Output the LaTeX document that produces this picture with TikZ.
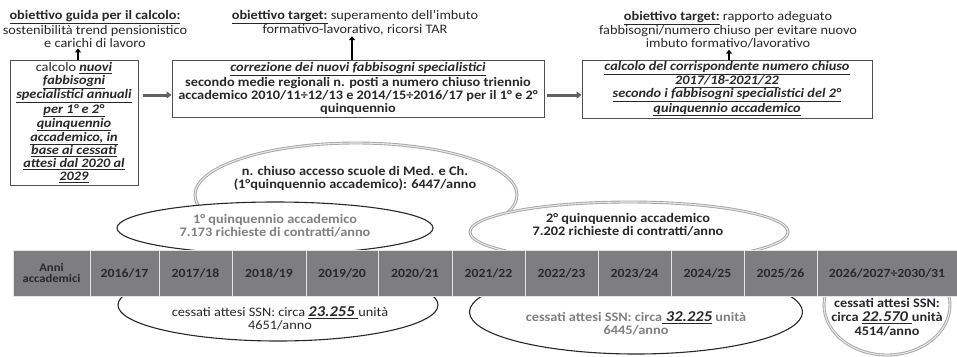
\documentclass[tikz,border=0pt]{standalone}
\usepackage{fontspec}
\setmainfont{Carlito}[FakeStretch=1.1]
\usepackage{tikz}
\usetikzlibrary{positioning,shapes,shapes.geometric,arrows,arrows.meta,calc}
\usepackage{xcolor}
\definecolor{boxgray}{RGB}{80,80,80}
\definecolor{cellgray}{RGB}{126,126,128}
\definecolor{txtdark}{RGB}{40,40,40}
\definecolor{txtgray}{RGB}{128,128,128}
\definecolor{ringgray}{RGB}{165,165,165}
\definecolor{ringlight}{RGB}{232,232,232}
\newcommand{\kul}[1]{\underline{\textbf{\textit{#1}}}}
\newcommand{\bignum}{\fontsize{15}{13}\selectfont}

\tikzset{
  stepbox/.style={draw=boxgray,line width=1pt,fill=white,align=center,
    text=txtdark,inner sep=1pt},
  goaltxt/.style={align=center,text=txtdark,inner sep=1pt},
  boldtxt/.style={goaltxt,font=\fontsize{13}{13}\selectfont\bfseries},
  uparrow/.style={-{Triangle[length=4pt,width=6pt]},line width=2.6pt,black},
  sidearrow/.style={-{Triangle[length=5pt,width=7pt]},line width=3pt,boxgray!90},
  darkring/.style={ellipse,draw=txtdark,line width=1.1pt,fill=white,inner sep=0pt},
  lightring/.style={ellipse,draw=ringgray,double=ringlight,double distance=1.1pt,
    line width=0.9pt,fill=white,inner sep=0pt},
  yearcell/.style={draw=white!80!gray,line width=0.8pt,fill=cellgray,inner sep=0pt,
    minimum height=46pt,text=txtdark,font=\fontsize{12.5}{12}\selectfont\bfseries},
}

\begin{document}
\begin{tikzpicture}[x=1pt,y=-1pt,font=\fontsize{13}{13}\selectfont]
    \useasboundingbox (0,0) rectangle (957,356);

    % Upper row: goals
    \node[goaltxt] (goal1) at (95,29) {\underline{\textbf{obiettivo guida per il calcolo:}}\\
      sostenibilità trend pensionistico\\e carichi di lavoro};
    \node[goaltxt] (goal2) at (355,22.5) {\underline{\textbf{obiettivo target:}} superamento dell’imbuto\\
      formativo-lavorativo, ricorsi TAR};
    \node[goaltxt] (goal3) at (728,30) {\underline{\textbf{obiettivo target:}} rapporto adeguato\\
      fabbisogni/numero chiuso per evitare nuovo\\imbuto formativo/lavorativo};

    % Upper row: steps
    \node[stepbox,minimum width=128pt,minimum height=125pt] (calc) at (74,122.5)
      {calcolo \kul{nuovi}\\\kul{fabbisogni}\\\kul{specialistici annuali}\\\kul{per 1° e 2°}\\
       \kul{quinquennio}\\\kul{accademico, in}\\\kul{base ai cessati}\\\kul{attesi dal 2020 al}\\\kul{2029}};
    \node[stepbox,minimum width=372pt,minimum height=57pt] (corr) at (358,88.5)
      {\kul{correzione dei nuovi fabbisogni specialistici}\\
       \textbf{secondo medie regionali n. posti a numero chiuso triennio}\\
       \textbf{accademico 2010/11÷12/13 e 2014/15÷2016/17 per il 1° e 2°}\\
       \textbf{quinquennio}};
    \node[stepbox,minimum width=290pt,minimum height=58pt] (numc) at (727,89)
      {\kul{calcolo del corrispondente numero chiuso}\\
       \kul{2017/18-2021/22}\\
       \kul{secondo i fabbisogni specialistici del 2°}\\
       \kul{quinquennio accademico}};

    % Arrows
    \coordinate (arow) at (0,95);
    \draw[uparrow] ([xshift=4pt]calc.north) -- ([xshift=4pt]calc.north |- goal1.south);
    \draw[uparrow] ([xshift=-6pt]corr.north) -- ([xshift=-6pt]corr.north |- goal2.south);
    \draw[uparrow] ([xshift=2pt]numc.north) -- ([xshift=2pt]numc.north |- goal3.south);
    \draw[sidearrow,shorten <=4pt] (calc.east |- arow) -- (corr.west |- arow);
    \draw[sidearrow,shorten <=2pt] (corr.east |- arow) -- (numc.west |- arow);

    % Ellipses above the years
    \begin{scope}
      \clip (0,130) rectangle (957,224);
      \node[lightring,minimum width=322pt,minimum height=104pt] (numchiuso) at (356,195) {};
    \end{scope}
    \node[darkring,minimum width=316pt,minimum height=52pt] (quinq1) at (275,228) {};
    \node[lightring,minimum width=318pt,minimum height=60pt] (quinq2) at (629,232) {};

    % Ellipses below the years
    \node[darkring,minimum width=320pt,minimum height=72pt] (cess1) at (278,305) {};
    \node[darkring,minimum width=333pt,minimum height=84pt] (cess2) at (636,312) {};
    \node[lightring,minimum width=126pt,minimum height=100pt] (cess3) at (887,305) {};

    % Academic years
    \foreach \xa/\xb/\yr in {90/159/2016\slash17,159/232/2017\slash18,232/306/2018\slash19,
        306/378/2019\slash20,378/452/2020\slash21,452/525/2021\slash22,525/598/2022\slash23,
        598/671/2023\slash24,671/744/2024\slash25,744/817/2025\slash26,817/957/2026\slash2027÷2030\slash31}
      \node[yearcell,minimum width={\xb-\xa}] (yr\xa) at ({(\xa+\xb)/2},273) {\yr};
    \node[yearcell,minimum width=77pt,align=center,font=\fontsize{11.5}{11}\selectfont\bfseries]
      (anni) at (51.5,273) {Anni\\accademici};

    % Texts in the ellipses
    \node[boldtxt] (numtxt) at (355,178.5)
      {n. chiuso accesso scuole di Med. e Ch.\\(1°quinquennio accademico): 6447/anno};
    \node[boldtxt,text=txtgray] (q1txt) at (275,225.5)
      {1° quinquennio accademico\\7.173 richieste di contratti/anno};
    \node[boldtxt] (q2txt) at (628,225)
      {2° quinquennio accademico\\7.202 richieste di contratti/anno};
    \node[goaltxt] (c1txt) at (280,318.5)
      {cessati attesi SSN: circa {\bignum\kul{23.255 }}unità\\4651/anno};
    \node[boldtxt,text=txtgray] (c2txt) at (636,323.5)
      {cessati attesi SSN: circa{\bignum\textcolor{txtdark}{\kul{ 32.225}}} unità\\6445/anno};
    \node[boldtxt,font=\fontsize{13}{14}\selectfont\bfseries] (c3txt) at (887,317.5)
      {cessati attesi SSN:\\circa {\bignum\kul{22.570 }}unità\\4514/anno};
\end{tikzpicture}
\end{document}
